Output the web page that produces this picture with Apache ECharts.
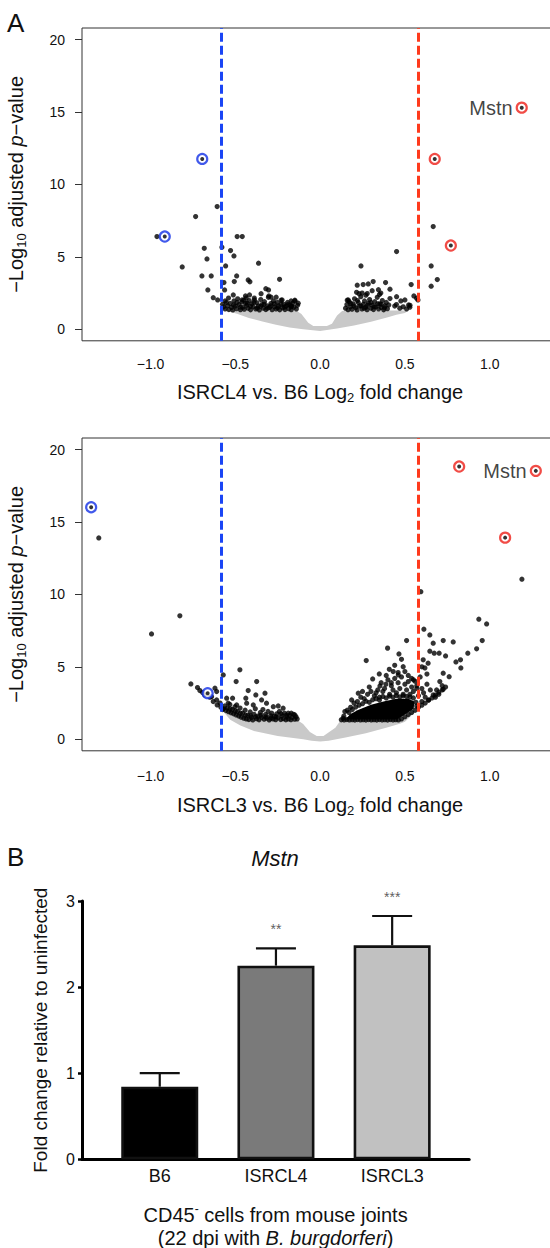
<!DOCTYPE html>
<html><head><meta charset="utf-8">
<script src="https://cdn.jsdelivr.net/npm/echarts@6.0.0/dist/echarts.min.js"></script>
<style>html,body{margin:0;padding:0;background:#fff}#c{width:550px;height:1248px}</style>
</head><body><div id="c"></div><script>
// ---------------- data ----------------
const xTicks = [-1, -0.5, 0, 0.5, 1];
const yTicks = [0, 5, 10, 15, 20];
const foldThreshold = 0.585;

// ISRCL4 vs B6
const grayCloudISRCL4 = [[-0.57,1.30],[-0.14,1.30],[-0.11,1.05],[-0.07,0.45],[-0.04,0.22],[0.04,0.22],[0.07,0.38],[0.10,0.95],[0.13,1.25],[0.15,1.30],[0.52,1.30],[0.50,1.12],[0.45,1.00],[0.40,0.82],[0.30,0.52],[0.20,0.25],[0.10,0.05],[0.00,-0.12],[-0.10,0.00],[-0.18,0.12],[-0.26,0.30],[-0.34,0.53],[-0.42,0.78],[-0.49,1.06],[-0.54,1.22]];
const sigISRCL4 = [
[-0.575,1.72],[-0.568,1.55],[-0.560,1.40],[-0.552,1.85],[-0.545,1.62],[-0.538,1.36],[-0.530,1.78],[-0.522,1.50],[-0.515,1.33],[-0.508,1.95],[-0.500,1.60],[-0.493,1.42],[-0.486,2.10],[-0.478,1.70],[-0.470,1.35],[-0.462,1.88],[-0.455,1.52],[-0.447,1.38],[-0.440,2.30],[-0.432,1.66],[-0.425,1.45],[-0.418,1.98],[-0.410,1.34],[-0.403,1.75],[-0.395,1.55],[-0.388,2.15],[-0.380,1.40],[-0.373,1.82],[-0.365,1.60],[-0.358,1.33],[-0.350,2.05],[-0.343,1.70],[-0.335,1.45],[-0.328,1.90],[-0.320,1.36],[-0.313,1.62],[-0.305,2.20],[-0.298,1.50],[-0.290,1.78],[-0.283,1.35],[-0.275,1.95],[-0.268,1.55],[-0.260,1.40],[-0.252,1.85],[-0.245,1.62],[-0.238,1.34],[-0.230,2.00],[-0.222,1.48],[-0.215,1.72],[-0.207,1.36],[-0.200,1.60],[-0.192,1.85],[-0.185,1.42],[-0.177,1.65],[-0.170,1.35],[-0.162,1.80],[-0.155,1.52],[-0.148,1.95],[-0.140,1.40],[-0.133,1.65],
[-0.56,1.95],[-0.54,2.15],[-0.51,1.68],[-0.49,1.85],[-0.47,1.52],[-0.45,2.00],[-0.43,1.80],[-0.41,1.58],[-0.39,1.85],[-0.37,1.45],[-0.35,1.58],[-0.33,1.72],[-0.31,1.45],[-0.29,1.62],[-0.27,1.75],[-0.25,1.48],[-0.23,1.72],[-0.21,1.52],[-0.19,1.70],[-0.17,1.55],
[-0.607,8.47],[-0.734,7.78],[-0.962,6.40],[-0.489,6.40],[-0.459,6.40],[-0.683,5.59],[-0.667,4.85],[-0.813,4.30],[-0.579,5.66],[-0.528,5.43],[-0.508,5.06],[-0.557,4.37],[-0.363,4.56],[-0.697,3.68],[-0.642,3.68],[-0.492,3.68],[-0.506,3.29],[-0.424,3.40],[-0.414,3.27],[-0.239,3.45],[-0.567,3.22],[-0.662,2.71],[-0.563,2.71],[-0.630,2.18],[-0.604,2.02],[-0.512,2.37],[-0.320,2.80],[-0.304,2.71],[-0.348,2.45],[-0.302,2.30],[-0.289,2.21],[-0.259,2.21],[-0.224,2.02],[-0.171,1.95],[-0.436,2.16],[-0.416,2.37],[-0.387,2.02],[-0.460,2.02],[-0.440,1.79],
[-0.149,2.00],[-0.129,1.80],[-0.168,1.60],
[0.150,1.45],[0.158,1.70],[0.165,1.35],[0.172,1.90],[0.180,1.55],[0.188,1.38],[0.195,1.75],[0.203,2.10],[0.210,1.48],[0.218,1.33],[0.225,1.85],[0.232,1.60],[0.240,2.25],[0.247,1.40],[0.255,1.72],[0.262,1.95],[0.270,1.52],[0.277,1.35],[0.285,1.80],[0.292,2.05],[0.300,1.45],[0.307,1.65],[0.315,1.36],[0.322,1.90],[0.330,1.55],[0.337,2.20],[0.345,1.40],[0.352,1.75],[0.360,1.50],[0.367,1.98],[0.375,1.34],[0.382,1.62],[0.390,1.85],[0.397,1.42],[0.405,1.68],[0.412,2.12],
[0.16,2.00],[0.18,1.78],[0.20,1.60],[0.22,1.98],[0.24,1.62],[0.26,1.45],[0.28,1.65],[0.30,1.85],[0.32,1.55],[0.34,1.75],[0.36,1.72],[0.38,1.48],[0.23,2.45],[0.27,2.35],[0.35,2.40],
[0.44,1.60],[0.45,1.70],[0.47,1.45],[0.49,1.55],[0.51,1.40],[0.53,1.65],
[0.667,7.09],[0.451,5.36],[0.241,4.37],[0.655,4.37],[0.691,3.43],[0.655,2.97],[0.537,3.08],[0.553,2.30],[0.569,2.14],[0.577,2.02],[0.219,3.04],[0.254,3.08],[0.284,3.13],[0.313,3.29],[0.386,3.22],[0.412,2.76],[0.344,2.73],[0.358,2.50],[0.451,2.25],[0.476,1.95],[0.500,2.02],[0.522,1.68],[0.529,1.52],[0.215,2.55],[0.248,2.50],[0.278,2.46],[0.307,2.66],[0.166,2.02]
];
const downHitsISRCL4 = [[-0.695,11.76],[-0.916,6.40]];
const upHitsISRCL4 = [[0.676,11.76],[0.771,5.78]];
const mstnISRCL4 = [1.189,15.30];

// ISRCL3 vs B6
const grayCloudISRCL3 = [[-0.57,1.90],[-0.46,1.35],[-0.13,1.30],[-0.10,1.05],[-0.06,0.50],[-0.02,0.23],[0.02,0.23],[0.06,0.55],[0.09,0.80],[0.12,1.30],[0.47,1.30],[0.56,2.00],[0.55,1.75],[0.50,1.20],[0.47,1.06],[0.40,0.82],[0.27,0.41],[0.15,0.12],[0.05,-0.10],[0.00,-0.15],[-0.05,-0.10],[-0.10,0.00],[-0.25,0.23],[-0.39,0.57],[-0.47,0.95],[-0.53,1.35]];
const denseCoreISRCL3 = [[0.15,1.36],[0.455,1.36],[0.552,2.10],[0.556,2.60],[0.52,2.80],[0.45,2.80],[0.38,2.62],[0.30,2.38],[0.22,2.00],[0.175,1.70]];
const sigISRCL3 = [
[-1.305,13.90],[-0.827,8.52],[-0.994,7.27],[-0.762,3.82],[-0.723,3.57],[-0.709,3.36],[-0.693,3.22],[-0.620,3.52],[-0.610,3.29],[-0.640,2.94],[-0.610,2.71],[-0.607,2.37],[-0.571,4.44],[-0.473,4.79],[-0.495,3.98],[-0.374,3.98],[-0.424,3.36],[-0.379,3.06],[-0.325,3.18],[-0.551,2.83],[-0.516,2.83],[-0.438,2.83],[-0.542,2.49],[-0.492,2.37],[-0.433,2.49],[-0.394,2.37],[-0.345,2.71],[-0.316,2.49],[-0.276,2.25],[-0.247,2.30],[-0.218,2.14],[-0.188,1.80],[-0.149,1.68],
[-0.680,3.05],[-0.650,2.90],[-0.630,2.60],[-0.590,2.50],[-0.585,2.20],[-0.575,2.05],
[-0.570,2.10],[-0.562,2.30],[-0.555,1.98],[-0.547,2.15],[-0.540,1.90],[-0.532,2.40],[-0.525,1.82],[-0.517,2.05],[-0.510,1.75],[-0.502,2.25],[-0.495,1.68],[-0.487,1.92],[-0.480,1.60],[-0.472,2.15],[-0.465,1.52],[-0.457,1.80],[-0.450,1.45],[-0.442,2.00],[-0.435,1.40],[-0.427,1.65],[-0.420,1.36],[-0.412,1.88],[-0.405,1.50],[-0.397,1.33],[-0.390,1.72],[-0.382,2.10],[-0.375,1.42],[-0.367,1.60],[-0.360,1.34],[-0.352,1.85],[-0.345,1.50],[-0.337,2.05],[-0.330,1.38],[-0.322,1.70],[-0.315,1.45],[-0.307,1.92],[-0.300,1.33],[-0.292,1.62],[-0.285,1.80],[-0.277,1.40],[-0.270,1.58],[-0.262,1.35],[-0.255,1.75],[-0.247,1.48],[-0.240,1.92],[-0.232,1.36],[-0.225,1.62],[-0.217,1.42],[-0.210,1.80],[-0.202,1.34],[-0.195,1.55],[-0.187,1.40],[-0.180,1.65],[-0.172,1.35],[-0.165,1.50],[-0.157,1.72],[-0.150,1.38],[-0.142,1.55],[-0.135,1.40],
[-0.53,2.10],[-0.50,1.95],[-0.47,1.80],[-0.44,1.65],[-0.41,1.62],[-0.38,1.55],[-0.35,1.65],[-0.32,1.55],[-0.29,1.45],[-0.26,1.55],[-0.23,1.75],[-0.20,1.65],[-0.17,1.80],
[1.190,11.05],[0.594,10.19],[0.936,8.29],[0.982,7.96],[0.956,6.81],[0.923,6.24],[0.871,5.94],[0.828,5.48],[0.801,5.34],[0.830,4.92],[0.785,6.72],[0.726,6.81],[0.667,6.63],[0.647,7.20],[0.612,7.60],[0.510,6.81],[0.647,6.08],[0.673,5.94],[0.702,5.94],[0.740,5.75],[0.608,5.48],[0.637,5.25],[0.618,4.92],[0.726,4.56],[0.761,4.32],[0.706,3.98],[0.726,3.45],[0.687,3.40],[0.667,3.06],[0.398,6.29],[0.465,5.89],[0.480,5.52],[0.272,5.43],[0.408,4.83],[0.431,4.67],[0.461,4.44],[0.490,5.01],[0.500,4.67],[0.349,4.51],[0.310,4.16],[0.388,3.80],[0.353,3.68],[0.225,3.18],[0.186,2.71],[0.146,1.91],[0.136,1.45],
[0.52,3.98],[0.54,3.60],[0.55,4.10],[0.57,3.70],[0.60,3.50],[0.61,3.20],[0.62,2.90],[0.63,3.80],[0.64,2.70],[0.65,3.40],[0.68,2.90],[0.70,3.10],[0.72,3.70],[0.60,2.60],[0.59,4.30],[0.60,5.00],[0.63,4.50],[0.58,3.00],
[0.14,1.60],[0.16,2.00],[0.18,2.20],[0.20,2.50],[0.22,2.60],[0.24,2.90],[0.26,2.80],[0.28,3.10],[0.30,3.30],[0.32,3.00],[0.34,3.40],[0.36,3.90],[0.38,3.50],[0.40,4.10],[0.42,3.70],[0.44,4.20],[0.46,3.90],[0.48,4.30],[0.50,3.80],[0.52,4.40],[0.54,4.20],[0.56,4.00],
[0.25,3.30],[0.29,3.60],[0.33,3.20],[0.37,3.30],[0.41,3.10],[0.43,3.40],[0.45,3.20],[0.47,3.50],[0.49,3.10],[0.51,3.40],[0.53,3.10],[0.55,3.30],[0.57,3.50],[0.35,2.90],[0.42,3.90],[0.46,4.60],[0.39,4.40],[0.44,5.10],
[0.48,1.40],[0.50,1.55],[0.52,1.70],[0.54,1.85],[0.56,2.00],[0.58,2.20],[0.60,2.35],[0.62,2.50],[0.64,2.70],[0.66,2.85],[0.68,3.05],[0.70,3.25],[0.72,3.40],[0.74,3.60],
[0.125,1.34],[0.142,1.33],[0.158,1.36],[0.173,1.33],[0.190,1.35],[0.205,1.32],[0.221,1.36],[0.238,1.33],[0.254,1.35],[0.270,1.32],[0.286,1.36],[0.302,1.33],[0.318,1.35],[0.334,1.32],[0.350,1.36],[0.366,1.33],[0.382,1.35],[0.398,1.32],[0.414,1.36],[0.430,1.33],[0.446,1.35],[0.462,1.33],
[0.170,1.85],[0.190,2.05],[0.210,2.22],[0.230,2.35],[0.250,2.45],[0.270,2.62],[0.290,2.55],[0.310,2.72],[0.330,2.80],[0.350,2.70],[0.370,2.95],[0.390,2.85],[0.410,2.98],[0.430,2.90],[0.450,3.02],[0.470,2.92],[0.490,3.00],[0.510,2.95],[0.530,2.92],[0.550,2.85],[0.565,2.55],[0.570,2.30]
];
const downHitsISRCL3 = [[-1.350,16.02],[-0.663,3.18]];
const upHitsISRCL3 = [[0.820,18.83],[1.091,13.92]];
const mstnISRCL3 = [1.272,18.53];

// Bar panel
const barGroups = ['B6','ISRCL4','ISRCL3'];
const barMeans = [0.843, 2.249, 2.485];
const barUpper = [1.002, 2.450, 2.826];
const barSig = ['', '**', '***'];
const barTicks = [0, 1, 2, 3];

// ---------------- styles ----------------
const FONT = 'Liberation Sans, Arial, Helvetica, sans-serif';
const BLUE = '#1a45f5', RED = '#ff3a1c';
const RING_BLUE = '#1230e6', RING_RED = '#ee1f18';
const barColors = ['#000000','#7a7a7a','#c1c1c1'];

const chart = echarts.init(document.getElementById('c'), null, {renderer:'svg'});

function fmtX(v){ return (v < 0 ? '\u2212' : '') + Math.abs(v).toFixed(1); }
const subRich = {
  sub: {fontSize: 13, lineHeight: 12, verticalAlign: 'bottom', fontFamily: FONT, color:'#111'},
  it: {fontStyle: 'italic', fontSize: 20, lineHeight: 24, fontFamily: FONT, color:'#111'}
};

function polygonSeries(outline, color, idx, z){
  return {type:'custom', xAxisIndex: idx, yAxisIndex: idx, data: outline, z: z, silent: true,
    encode: {x: 0, y: 1},
    renderItem: function(params, api){
      if (params.dataIndex !== 0) return null;
      return {type:'polygon', shape:{points: outline.map(function(p){return api.coord(p);})}, style:{fill: color}};
    }};
}

function volcanoSeries(idx, gray, core, sig, down, up, mstn){
  const s = [];
  s.push(polygonSeries(gray, '#c9c9c9', idx, 1));
  if (core) s.push(polygonSeries(core, '#000', idx, 2));
  s.push({type:'scatter', xAxisIndex: idx, yAxisIndex: idx, data: sig, symbolSize: 5.2, z: 3, silent: true,
    itemStyle:{color:'#000'},
    markLine:{silent:true, symbol:['none','none'], label:{show:false},
      data:[{xAxis:-foldThreshold, lineStyle:{color:BLUE, width:3, type:[9,4]}},
            {xAxis: foldThreshold, lineStyle:{color:RED, width:3, type:[9,4]}}]}});
  s.push({type:'scatter', xAxisIndex: idx, yAxisIndex: idx, data: down, symbolSize: 10, z: 4, silent: true,
    itemStyle:{color:'#fff', borderColor: RING_BLUE, borderWidth: 2.2}});
  const upData = up.map(function(p){return p;});
  upData.push({value: mstn, label:{show:true, position:'left', distance:3, formatter:'Mstn', fontSize:20, color:'#111', fontFamily: FONT}});
  s.push({type:'scatter', xAxisIndex: idx, yAxisIndex: idx, data: upData, symbolSize: 10, z: 4, silent: true,
    itemStyle:{color:'#fff', borderColor: RING_RED, borderWidth: 2.2}});
  s.push({type:'scatter', xAxisIndex: idx, yAxisIndex: idx, data: down.concat(up, [mstn]), symbolSize: 4, z: 5, silent: true,
    itemStyle:{color:'#000'}});
  return s;
}

function volcanoX(idx, label, labelMargin, nameGap){
  return {gridIndex: idx, type:'value', min:-1.404, max:1.404,
    axisLine:{show:false, onZero:false}, axisTick:{show:false}, splitLine:{show:false},
    axisLabel:{customValues: xTicks, formatter: fmtX, fontSize:14, color:'#111', fontFamily: FONT, margin: labelMargin},
    name: label, nameLocation:'middle', nameGap: nameGap,
    nameTextStyle:{fontSize:20, lineHeight:24, color:'#111', fontFamily: FONT, rich: subRich}};
}
function volcanoY(idx){
  return {gridIndex: idx, type:'value', min:-0.8, max:20.8,
    axisLine:{show:false, onZero:false}, splitLine:{show:false},
    axisTick:{show:true, customValues: yTicks, length:7, lineStyle:{color:'#333', width:1}},
    axisLabel:{customValues: yTicks, fontSize:14, color:'#111', fontFamily: FONT, margin: 17},
    name: '\u2212Log{sub|10} adjusted {it|p}\u2212value', nameLocation:'middle', nameRotate: 90, nameGap: 54,
    nameTextStyle:{fontSize:20, lineHeight:24, color:'#111', fontFamily: FONT, rich: subRich}};
}

const barData = barGroups.map(function(g, i){ return {value:[i+1, barMeans[i]], itemStyle:{color: barColors[i]}}; });
const errData = barGroups.map(function(g, i){ return [i+1, barMeans[i], barUpper[i]]; });
const sigData = barGroups.map(function(g, i){ return [i+1, barUpper[i], barSig[i]]; }).filter(function(d){return d[2];});

const option = {
  backgroundColor:'#fff',
  animation:false,
  title:[
    {text:'A', left:7, top:10, padding:0, textStyle:{fontSize:26, fontWeight:'normal', color:'#111', fontFamily: FONT}},
    {text:'B', left:7, top:844, padding:0, textStyle:{fontSize:26, fontWeight:'normal', color:'#111', fontFamily: FONT}},
    {text:'Mstn', left:'center', top:847, padding:0, textStyle:{fontSize:22, fontStyle:'italic', fontWeight:'normal', color:'#111', fontFamily: FONT}}
  ],
  grid:[
    {left:82, top:28, width:476.2, height:312.8, show:true, borderColor:'#333', borderWidth:1, backgroundColor:'transparent', outerBoundsMode:'none', containLabel:false},
    {left:82, top:438, width:476.2, height:312.8, show:true, borderColor:'#333', borderWidth:1, backgroundColor:'transparent', outerBoundsMode:'none', containLabel:false},
    {left:82, top:901, width:387.2, height:258.3, outerBoundsMode:'none', containLabel:false}
  ],
  xAxis:[
    volcanoX(0, 'ISRCL4 vs. B6 Log{sub|2} fold change', 16, 39),
    volcanoX(1, 'ISRCL3 vs. B6 Log{sub|2} fold change', 18, 42),
    {gridIndex:2, type:'value', min:0.331, max:3.663,
      axisLine:{show:true, onZero:false, lineStyle:{color:'#000', width:3}}, axisTick:{show:false}, splitLine:{show:false},
      axisLabel:{customValues:[1,2,3], formatter:function(v){return barGroups[Math.round(v)-1];}, fontSize:18, color:'#111', fontFamily: FONT, margin:8},
      name:'CD45{sup|-} cells from mouse joints\n(22 dpi with {it|B. burgdorferi})', nameLocation:'middle', nameGap:44,
      nameTextStyle:{fontSize:20, lineHeight:23, color:'#111', fontFamily: FONT,
        rich:{sup:{fontSize:12, lineHeight:12, verticalAlign:'top', fontFamily: FONT, color:'#111'},
              it:{fontStyle:'italic', fontSize:20, lineHeight:23, fontFamily: FONT, color:'#111'}}}}
  ],
  yAxis:[
    volcanoY(0),
    volcanoY(1),
    {gridIndex:2, type:'value', min:0, max:3, interval:1,
      axisLine:{show:true, onZero:false, lineStyle:{color:'#000', width:3}},
      axisTick:{show:true, length:4, lineStyle:{color:'#000', width:2.5}},
      splitLine:{show:false},
      axisLabel:{fontSize:16, color:'#111', fontFamily: FONT, margin:7, customValues: barTicks},
      name:'Fold change relative to uninfected', nameLocation:'middle', nameRotate:90, nameGap:32,
      nameTextStyle:{fontSize:19, color:'#111', fontFamily: FONT}}
  ],
  series: [].concat(
    volcanoSeries(0, grayCloudISRCL4, null, sigISRCL4, downHitsISRCL4, upHitsISRCL4, mstnISRCL4),
    volcanoSeries(1, grayCloudISRCL3, denseCoreISRCL3, sigISRCL3, downHitsISRCL3, upHitsISRCL3, mstnISRCL3),
    [
      {type:'bar', xAxisIndex:2, yAxisIndex:2, data: barData, barWidth:77, silent:true, z:2,
        itemStyle:{borderColor:'#111', borderWidth:2.6}},
      {type:'custom', xAxisIndex:2, yAxisIndex:2, data: errData, z:3, silent:true,
        encode:{x:0, y:[1,2]},
        renderItem:function(params, api){
          const x = api.value(0), m = api.value(1), u = api.value(2);
          const p0 = api.coord([x, m]), p1 = api.coord([x, u]);
          const st = {stroke:'#111', lineWidth:2.2};
          return {type:'group', children:[
            {type:'line', shape:{x1:p0[0], y1:p0[1], x2:p1[0], y2:p1[1]}, style: st},
            {type:'line', shape:{x1:p1[0]-20, y1:p1[1], x2:p1[0]+20, y2:p1[1]}, style: st}
          ]};
        }},
      {type:'scatter', xAxisIndex:2, yAxisIndex:2, data: sigData, symbolSize:0, silent:true, z:4,
        label:{show:true, position:'top', distance:12, formatter:function(p){return p.value[2];}, fontSize:14, color:'#333', fontFamily: FONT}}
    ]
  )
};
chart.setOption(option);
</script></body></html>
